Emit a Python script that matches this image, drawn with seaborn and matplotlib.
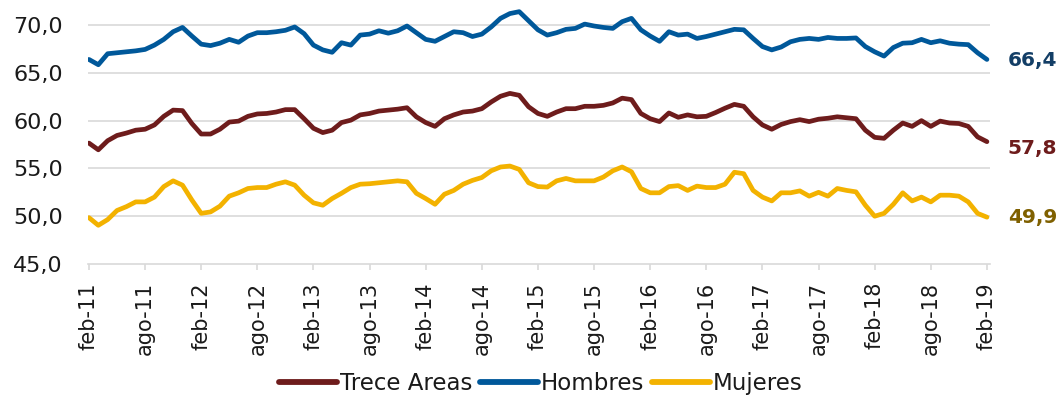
import numpy as np
import pandas as pd
import matplotlib
matplotlib.use("Agg")
import matplotlib.pyplot as plt
import seaborn as sns

# Monthly series, feb-2011 .. feb-2019 (97 months)
hombres = [
    66.4, 65.85, 67.0, 67.1, 67.2, 67.3, 67.45, 67.9, 68.5, 69.3, 69.75, 68.85,
    68.0, 67.85, 68.1, 68.5, 68.2, 68.85, 69.2, 69.2, 69.3, 69.45, 69.8, 69.1,
    67.9, 67.4, 67.15, 68.15, 67.9, 68.95, 69.05, 69.4, 69.15, 69.4, 69.9, 69.2,
    68.5, 68.3, 68.8, 69.3, 69.2, 68.8, 69.05, 69.8, 70.7, 71.2, 71.4, 70.45,
    69.5, 68.95, 69.2, 69.55, 69.65, 70.1, 69.9, 69.75, 69.65, 70.35, 70.7, 69.5,
    68.85, 68.3, 69.3, 68.95, 69.05, 68.6, 68.8, 69.05, 69.3, 69.55, 69.5, 68.6,
    67.75, 67.4, 67.7, 68.25, 68.5, 68.6, 68.5, 68.7, 68.6, 68.6, 68.65, 67.75,
    67.2, 66.75, 67.65, 68.1, 68.15, 68.5, 68.15, 68.35, 68.1, 68.0, 67.95, 67.1,
    66.4,
]
trece_areas = [
    57.65, 56.95, 57.9, 58.45, 58.7, 59.0, 59.1, 59.55, 60.45, 61.1, 61.05, 59.7,
    58.6, 58.6, 59.1, 59.85, 59.95, 60.45, 60.7, 60.75, 60.9, 61.15, 61.15, 60.2,
    59.2, 58.75, 59.0, 59.8, 60.05, 60.6, 60.75, 61.0, 61.1, 61.2, 61.35, 60.4,
    59.8, 59.4, 60.2, 60.6, 60.9, 61.0, 61.25, 61.95, 62.55, 62.85, 62.65, 61.45,
    60.75, 60.45, 60.9, 61.25, 61.25, 61.5, 61.5, 61.6, 61.85, 62.35, 62.2, 60.75,
    60.2, 59.9, 60.8, 60.35, 60.6, 60.4, 60.45, 60.85, 61.3, 61.7, 61.5, 60.4,
    59.55, 59.1, 59.6, 59.9, 60.1, 59.9, 60.15, 60.25, 60.4, 60.3, 60.2, 59.0,
    58.25, 58.15, 59.0, 59.75, 59.4, 60.0, 59.4, 59.95, 59.75, 59.7, 59.4, 58.3,
    57.8,
]
mujeres = [
    49.85, 49.05, 49.65, 50.6, 51.0, 51.5, 51.5, 52.0, 53.1, 53.7, 53.25, 51.7,
    50.3, 50.45, 51.05, 52.1, 52.45, 52.9, 53.0, 53.0, 53.35, 53.6, 53.25, 52.2,
    51.4, 51.15, 51.85, 52.4, 53.0, 53.35, 53.4, 53.5, 53.6, 53.7, 53.6, 52.4,
    51.85, 51.25, 52.3, 52.7, 53.35, 53.75, 54.05, 54.75, 55.15, 55.25, 54.9, 53.5,
    53.1, 53.05, 53.7, 53.95, 53.7, 53.7, 53.7, 54.1, 54.75, 55.15, 54.65, 52.9,
    52.45, 52.45, 53.1, 53.2, 52.7, 53.15, 53.0, 53.0, 53.35, 54.6, 54.45, 52.7,
    52.0, 51.6, 52.45, 52.45, 52.65, 52.1, 52.5, 52.1, 52.9, 52.7, 52.55, 51.15,
    50.0, 50.3, 51.25, 52.45, 51.6, 52.0, 51.5, 52.2, 52.2, 52.1, 51.5, 50.3,
    49.9,
]

series_names = ["Trece Areas", "Hombres", "Mujeres"]
tick_labels = ["feb-11", "ago-11", "feb-12", "ago-12", "feb-13", "ago-13",
               "feb-14", "ago-14", "feb-15", "ago-15", "feb-16", "ago-16",
               "feb-17", "ago-17", "feb-18", "ago-18", "feb-19"]
y_ticks = [45.0, 50.0, 55.0, 60.0, 65.0, 70.0]

line_colors = {"Trece Areas": "#6e1c1c", "Hombres": "#00589a", "Mujeres": "#f3b200"}
label_colors = {"Trece Areas": "#6e1c1c", "Hombres": "#133e66", "Mujeres": "#7f6000"}
label_dy = {"Trece Areas": -5, "Hombres": -1, "Mujeres": 0}

n = len(hombres)
month = np.arange(n)
df = pd.concat([
    pd.DataFrame({"mes": month, "valor": vals, "serie": name})
    for name, vals in zip(series_names, [trece_areas, hombres, mujeres])
], ignore_index=True)

sns.set_theme(style="white")
plt.rcParams["font.family"] = ["DejaVu Sans"]

fig = plt.figure(figsize=(10.61, 3.95), dpi=100)
ax = fig.add_axes([0.0829, 0.3316, 0.933 - 0.0829, 0.985 - 0.3316])

sns.lineplot(data=df, x="mes", y="valor", hue="serie", hue_order=series_names,
             palette=line_colors, linewidth=3.4, ax=ax, legend=False,
             solid_joinstyle="round", solid_capstyle="round")

ax.set_xlim(-0.107, 96.32)
ax.set_ylim(45, 72)
ax.set_yticks(y_ticks)
ax.set_yticklabels([f"{v:.1f}".replace(".", ",") for v in y_ticks])
ax.set_xticks(month[::6])
ax.set_xticklabels(tick_labels, rotation=90)
ax.set_xlabel("")
ax.set_ylabel("")

grid_c = "#d9d9d9"
for v in y_ticks[1:]:
    ax.axhline(v, color=grid_c, lw=1.2, zorder=0)
for s in ["top", "right", "left"]:
    ax.spines[s].set_visible(False)
ax.spines["bottom"].set_color(grid_c)
ax.spines["bottom"].set_linewidth(1.2)

ax.tick_params(axis="y", length=0, pad=18, labelsize=16, labelcolor="#1a1a1a")
ax.tick_params(axis="x", length=4, width=1.2, color=grid_c, pad=9,
               labelsize=15, labelcolor="#1a1a1a", bottom=True)

# end-of-series value labels
for name, vals in zip(series_names, [trece_areas, hombres, mujeres]):
    ax.annotate(f"{vals[-1]:.1f}".replace(".", ","), xy=(month[-1], vals[-1]),
                xytext=(15, label_dy[name]), textcoords="offset points",
                ha="left", va="center", fontsize=14.5, fontweight="bold",
                color=label_colors[name], annotation_clip=False)

handles = [plt.Line2D([0], [0], color=line_colors[s], lw=4.2, solid_capstyle="round")
           for s in series_names]
fig.legend(handles, series_names, loc="center", bbox_to_anchor=(0.51, 0.03),
           ncol=3, frameon=False, fontsize=16.5, handlelength=2.5,
           handletextpad=0.15, columnspacing=0.35, labelcolor="#1a1a1a")

fig.savefig("out.png", dpi=100)
